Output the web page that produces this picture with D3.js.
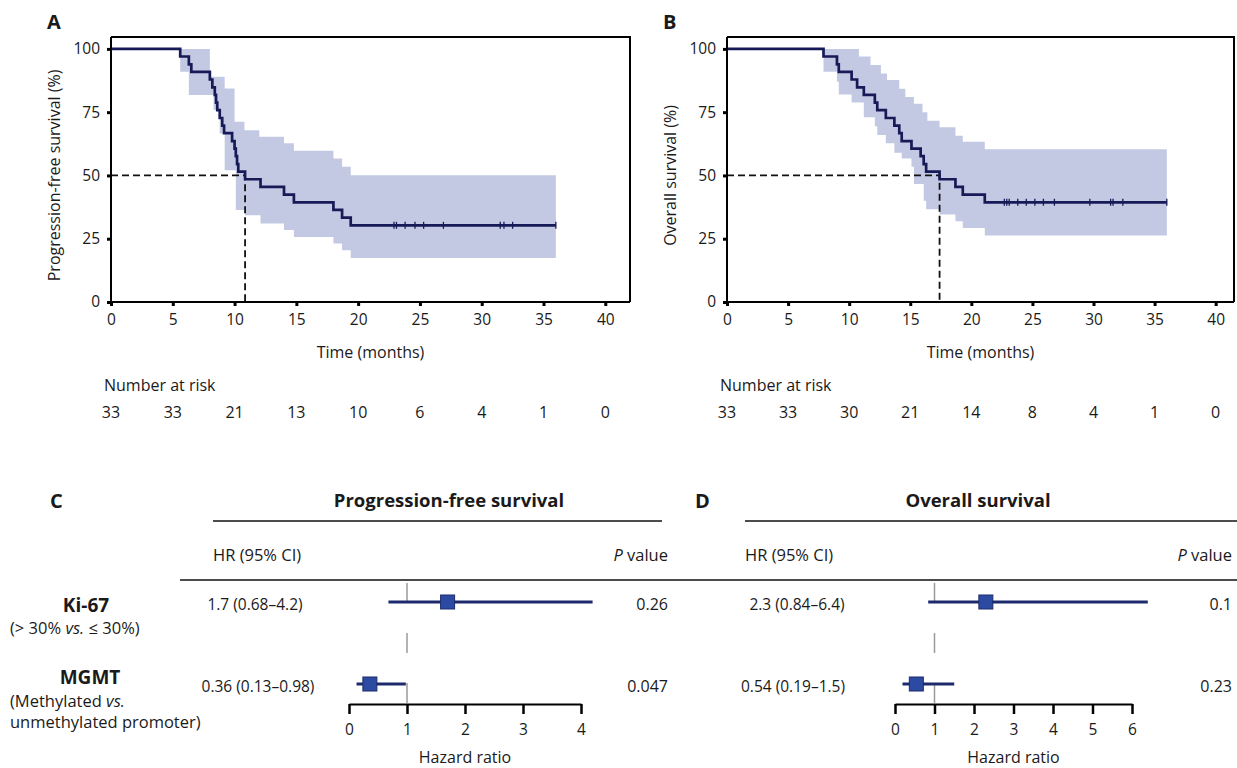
<!DOCTYPE html>
<html><head><meta charset="utf-8">
<script src="https://cdn.jsdelivr.net/npm/d3@7"></script>
<style>
body{margin:0;background:#fff}
svg{display:block}
text{font-family:"Open Sans","Noto Sans",sans-serif;fill:#1a1a1a}
</style>
</head><body>
<svg id="chart" width="1237" height="768"></svg>
<script>
// ---------------- DATA ----------------
const riskTimes = [0, 5, 10, 15, 20, 25, 30, 35, 40];
const pfsRisk = [33, 33, 21, 13, 10, 6, 4, 1, 0];
const osRisk  = [33, 33, 30, 21, 14, 8, 4, 1, 0];
const yTicks = [0, 25, 50, 75, 100];

// Progression-free survival (panel A)
const pfsTimes = [0, 5.6, 6.3, 6.5, 8.0, 8.2, 8.4, 8.5, 8.6, 8.8, 9.0, 9.15, 9.8, 10.0, 10.1, 10.2, 10.3, 10.85, 12.1, 14.0, 14.8, 18.0, 18.7, 19.4, 36.0];
const pfsSurv  = [100, 97.0, 93.9, 90.9, 87.9, 84.8, 81.8, 78.8, 75.8, 72.7, 69.7, 66.7, 63.6, 60.6, 57.6, 54.5, 51.5, 48.5, 45.5, 42.4, 39.4, 36.4, 33.3, 30.3, 30.3];
const pfsUpperTimes = [5.6, 8.0, 9.2, 10.0, 10.8, 12.0, 14.0, 14.8, 18.0, 18.7, 19.4, 36.0];
const pfsUpper      = [100, 89, 84.4, 71.2, 67.9, 65.3, 62.7, 59.8, 56.7, 53.4, 50.1, 50.1];
const pfsLowerTimes = [5.6, 6.3, 8.3, 8.8, 9.2, 10.1, 10.85, 12.1, 14.0, 14.8, 18.0, 18.7, 19.4, 36.0];
const pfsLower      = [91, 81.8, 76, 66.6, 52.1, 36.3, 34.3, 31, 28.4, 25.7, 23.1, 20.4, 17.4, 17.4];
const pfsCensor = [22.9, 23.1, 23.8, 24.6, 25.3, 26.9, 31.5, 31.8, 32.5, 36.0];
const pfsMedian = 10.85;

// Overall survival (panel B)
const osTimes = [0, 7.9, 9.0, 9.15, 10.2, 10.65, 11.2, 12.1, 12.3, 13.0, 13.7, 14.1, 14.3, 15.1, 15.85, 16.1, 16.3, 17.4, 18.7, 19.3, 21.1, 36.0];
const osSurv  = [100, 97.0, 93.9, 90.9, 87.9, 84.8, 81.8, 78.8, 75.8, 72.7, 69.7, 66.7, 63.6, 60.6, 57.6, 54.5, 51.5, 48.5, 45.5, 42.4, 39.4, 39.4];
const osUpperTimes = [7.9, 10.8, 11.75, 12.6, 13.1, 14.1, 14.6, 15.3, 16.0, 16.4, 17.4, 18.7, 19.3, 21.1, 36.0];
const osUpper      = [100, 97, 93.6, 90.3, 87.7, 84.3, 81, 78.3, 75, 71.6, 69, 65.7, 63.3, 60.4, 60.4];
const osLowerTimes = [7.9, 9.0, 9.15, 10.2, 11.2, 12.1, 12.3, 13.0, 13.7, 14.3, 15.1, 15.3, 16.1, 16.3, 17.4, 18.7, 19.3, 21.1, 36.0];
const osLower      = [91, 87, 82, 78.8, 73, 69.4, 66, 62.7, 59, 56.7, 53.4, 46.6, 40, 36.6, 34.6, 31.9, 29.2, 26.3, 26.3];
const osCensor = [22.7, 22.9, 23.1, 23.8, 24.5, 25.2, 25.9, 26.8, 29.7, 31.4, 31.6, 32.4, 36.0];
const osMedian = 17.4;

// Forest plots (panels C, D)
const forestNames = ["Ki-67", "MGMT"];
const forestSub = [["(> 30% ", "vs.", " ≤ 30%)"], ["(Methylated ", "vs.", ""]];
const forestSub2 = ["", "unmethylated promoter)"];
const pfsHR = [1.7, 0.36], pfsLo = [0.68, 0.13], pfsHi = [4.2, 0.98];
const pfsHRText = ["1.7 (0.68–4.2)", "0.36 (0.13–0.98)"];
const pfsP = ["0.26", "0.047"];
const osHR = [2.3, 0.54], osLo = [0.84, 0.19], osHi = [6.4, 1.5];
const osHRText = ["2.3 (0.84–6.4)", "0.54 (0.19–1.5)"];
const osP = ["0.1", "0.23"];
const pfsHRTicks = [0, 1, 2, 3, 4];
const osHRTicks = [0, 1, 2, 3, 4, 5, 6];

// ---------------- DRAW ----------------
const svg = d3.select("#chart");
const NAVY = "#161a57", BAND = "#c4c9e3";
const FONT = '"Open Sans","Noto Sans",sans-serif';

function stepValue(times, vals, t) {
  let v = vals[0];
  for (let i = 0; i < times.length; i++) { if (times[i] <= t) v = vals[i]; }
  return v;
}

function kmPanel(cfg) {
  const g = svg.append("g");
  const x = d3.scaleLinear().domain([0, cfg.xMax]).range([cfg.x0, cfg.x1]);
  const y = d3.scaleLinear().domain([0, 104.7]).range([cfg.y0, cfg.y1]);

  // CI band
  const bt = Array.from(new Set(cfg.upT.concat(cfg.loT))).sort((a, b) => a - b);
  const band = bt.map(t => ({t, hi: stepValue(cfg.upT, cfg.up, t), lo: stepValue(cfg.loT, cfg.lo, t)}));
  g.append("path").datum(band)
    .attr("fill", BAND).attr("stroke", "none")
    .attr("d", d3.area().curve(d3.curveStepAfter).x(d => x(d.t)).y0(d => y(d.lo)).y1(d => y(d.hi)));

  // frame (top + right)
  g.append("path").attr("fill", "none").attr("stroke", "#000").attr("stroke-width", 2)
    .attr("d", `M${x(0)},${y(104.7)}H${x(cfg.xMax)}V${y(0)}`);

  // median lines
  g.append("path").attr("fill", "none").attr("stroke", "#111").attr("stroke-width", 1.8)
    .attr("stroke-dasharray", "7,4")
    .attr("d", `M${x(0)},${y(50)}H${x(cfg.median)}V${y(0)}`);

  // KM curve
  const pts = cfg.times.map((t, i) => [t, cfg.surv[i]]);
  g.append("path").datum(pts).attr("fill", "none").attr("stroke", NAVY).attr("stroke-width", 2.7)
    .attr("d", d3.line().curve(d3.curveStepAfter).x(d => x(d[0])).y(d => y(d[1])));

  // censor marks
  g.selectAll(".cens").data(cfg.censor).join("line")
    .attr("x1", d => x(d)).attr("x2", d => x(d))
    .attr("y1", d => y(stepValue(cfg.times, cfg.surv, d)) - 3.5)
    .attr("y2", d => y(stepValue(cfg.times, cfg.surv, d)) + 3.5)
    .attr("stroke", NAVY).attr("stroke-width", 1.3);

  // axes
  const xa = g.append("g").attr("transform", `translate(0,${cfg.y0})`)
    .call(d3.axisBottom(x).tickValues(riskTimes).tickSizeInner(4).tickSizeOuter(0).tickPadding(8));
  xa.select(".domain").attr("stroke", "#000").attr("stroke-width", 2)
    .attr("d", `M${x(0)},0H${x(cfg.xMax)}`);
  xa.selectAll(".tick line").attr("stroke", "#000").attr("stroke-width", 3);
  xa.selectAll("text").attr("font-size", 15.5).attr("fill", "#1a1a1a").style("font-family", FONT);

  const ya = g.append("g").attr("transform", `translate(${cfg.x0},0)`)
    .call(d3.axisLeft(y).tickValues(yTicks).tickSizeInner(4).tickSizeOuter(0).tickPadding(7));
  ya.select(".domain").attr("stroke", "#000").attr("stroke-width", 2)
    .attr("d", `M0,${y(0)}V${y(104.7)}`);
  ya.selectAll(".tick line").attr("stroke", "#000").attr("stroke-width", 3);
  ya.selectAll("text").attr("font-size", 15.5).attr("fill", "#1a1a1a").style("font-family", FONT);

  // titles
  g.append("text").attr("x", cfg.letterX).attr("y", 29).attr("font-size", 20).attr("font-weight", "bold").text(cfg.letter);
  g.append("text").attr("transform", `translate(${cfg.x0 - 51},${(y(0) + y(100)) / 2}) rotate(-90)`)
    .attr("text-anchor", "middle").attr("font-size", 16).text(cfg.ytitle);
  g.append("text").attr("x", (cfg.x0 + cfg.x1) / 2).attr("y", 358).attr("text-anchor", "middle").attr("font-size", 16).text("Time (months)");
  g.append("text").attr("x", x(0) - 7).attr("y", 391).attr("font-size", 16).text("Number at risk");
  g.selectAll(".risk").data(cfg.risk).join("text")
    .attr("x", (d, i) => x(riskTimes[i])).attr("y", 418)
    .attr("text-anchor", "middle").attr("font-size", 16).text(d => d);
}

kmPanel({x0: 111, x1: 630, xMax: 42.0, y0: 302, y1: 37, letter: "A", letterX: 47,
  ytitle: "Progression-free survival (%)",
  times: pfsTimes, surv: pfsSurv, upT: pfsUpperTimes, up: pfsUpper, loT: pfsLowerTimes, lo: pfsLower,
  censor: pfsCensor, median: pfsMedian, risk: pfsRisk});
kmPanel({x0: 727, x1: 1234, xMax: 41.5, y0: 302, y1: 37, letter: "B", letterX: 663,
  ytitle: "Overall survival (%)",
  times: osTimes, surv: osSurv, upT: osUpperTimes, up: osUpper, loT: osLowerTimes, lo: osLower,
  censor: osCensor, median: osMedian, risk: osRisk});

// ---------------- FOREST ----------------
const rowY = [602, 684];
const axisY = 704;

function forest(cfg) {
  const g = svg.append("g");
  const x = d3.scaleLinear().domain([0, cfg.ticks[cfg.ticks.length - 1]]).range([cfg.xa, cfg.xb]);
  g.append("text").attr("x", cfg.letterX).attr("y", 508).attr("font-size", 20).attr("font-weight", "bold").text(cfg.letter);
  g.append("text").attr("x", cfg.titleX).attr("y", 507).attr("text-anchor", "middle")
    .attr("font-size", 18.5).attr("font-weight", "bold").text(cfg.title);
  g.append("line").attr("x1", cfg.lineX0).attr("x2", cfg.lineX1).attr("y1", 521).attr("y2", 521)
    .attr("stroke", "#111").attr("stroke-width", 1.5);
  g.append("text").attr("x", cfg.lineX0).attr("y", 561).attr("font-size", 16.5).text("HR (95% CI)");
  const pv = g.append("text").attr("x", cfg.pX).attr("y", 561).attr("text-anchor", "end").attr("font-size", 16.5);
  pv.append("tspan").attr("font-style", "italic").text("P");
  pv.append("tspan").text(" value");

  // reference line at HR = 1
  g.append("line").attr("x1", x(1)).attr("x2", x(1)).attr("y1", 583).attr("y2", axisY)
    .attr("stroke", "#9a9a9a").attr("stroke-width", 1.5).attr("stroke-dasharray", "20,30");

  // CI lines and squares
  g.selectAll(".ci").data(cfg.hr).join("line")
    .attr("x1", (d, i) => x(cfg.lo[i])).attr("x2", (d, i) => x(cfg.hi[i]))
    .attr("y1", (d, i) => rowY[i]).attr("y2", (d, i) => rowY[i])
    .attr("stroke", "#1e2a6e").attr("stroke-width", 3);
  g.selectAll(".sq").data(cfg.hr).join("rect")
    .attr("x", d => x(d) - 7).attr("y", (d, i) => rowY[i] - 7).attr("width", 14).attr("height", 14)
    .attr("fill", "#2d4aa3").attr("stroke", "#1e2a6e").attr("stroke-width", 1);

  g.selectAll(".hrt").data(cfg.hrText).join("text")
    .attr("x", (d, i) => cfg.hrTextX[i]).attr("y", (d, i) => rowY[i] + 8)
    .attr("text-anchor", "middle").attr("font-size", 15.5).text(d => d);
  g.selectAll(".pt").data(cfg.p).join("text")
    .attr("x", cfg.pX).attr("y", (d, i) => rowY[i] + 8)
    .attr("text-anchor", "end").attr("font-size", 16).text(d => d);

  // axis
  const ax = g.append("g").attr("transform", `translate(0,${axisY})`)
    .call(d3.axisBottom(x).tickValues(cfg.ticks).tickSizeInner(10).tickSizeOuter(0).tickPadding(10).tickFormat(d3.format("d")));
  ax.select(".domain").attr("stroke", "#000").attr("stroke-width", 2);
  ax.selectAll(".tick line").attr("stroke", "#000").attr("stroke-width", 2.5);
  ax.selectAll("text").attr("font-size", 15.5).attr("fill", "#1a1a1a").style("font-family", FONT);
  g.append("text").attr("x", (cfg.xa + cfg.xb) / 2).attr("y", 763).attr("text-anchor", "middle")
    .attr("font-size", 16).text("Hazard ratio");
}

forest({letter: "C", letterX: 50, title: "Progression-free survival", titleX: 449,
  lineX0: 213, lineX1: 662, pX: 668, xa: 349, xb: 581, ticks: pfsHRTicks,
  hr: pfsHR, lo: pfsLo, hi: pfsHi, hrText: pfsHRText, hrTextX: [255, 258], p: pfsP});
forest({letter: "D", letterX: 695, title: "Overall survival", titleX: 978,
  lineX0: 745, lineX1: 1237, pX: 1232, xa: 895, xb: 1132, ticks: osHRTicks,
  hr: osHR, lo: osLo, hi: osHi, hrText: osHRText, hrTextX: [797, 793], p: osP});

// long separator
svg.append("line").attr("x1", 180).attr("x2", 1237).attr("y1", 580).attr("y2", 580)
  .attr("stroke", "#111").attr("stroke-width", 1.5);

// row labels
const lab = svg.append("g");
const nameX = [86, 90], nameY = [612, 684], subY = [634, 707];
forestNames.forEach((n, i) => {
  lab.append("text").attr("x", nameX[i]).attr("y", nameY[i]).attr("text-anchor", "middle")
    .attr("font-size", 19).attr("font-weight", "bold").text(n);
  const t = lab.append("text").attr("x", 10).attr("y", subY[i]).attr("font-size", 16.5);
  t.append("tspan").text(forestSub[i][0]);
  t.append("tspan").attr("font-style", "italic").text(forestSub[i][1]);
  t.append("tspan").text(forestSub[i][2]);
  if (forestSub2[i]) lab.append("text").attr("x", 10).attr("y", subY[i] + 21).attr("font-size", 16.5).text(forestSub2[i]);
});
</script>
</body></html>
